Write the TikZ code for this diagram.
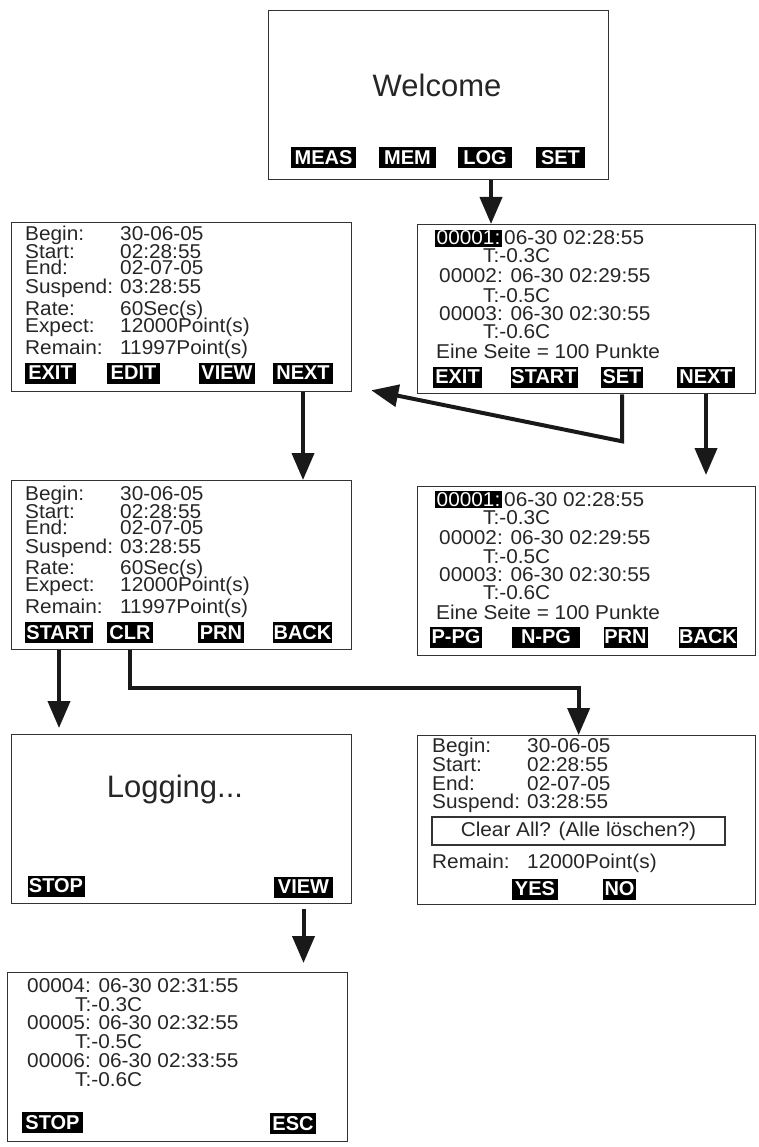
\documentclass[tikz,border=0pt]{standalone}
\usepackage{fontspec}
\setmainfont{Liberation Sans}
\newfontfamily\lcd[FakeStretch=1.04]{Liberation Sans}
\usetikzlibrary{positioning,calc,arrows.meta}

\tikzset{
	screen/.style={draw=black!80, line width=1.3pt, anchor=north west, minimum width=340pt, minimum height=169pt, inner sep=0pt},
	row/.style={anchor=base west, inner sep=0pt, text=black!85, font={\lcd\fontsize{20}{22}\selectfont}},
	hilite/.style={fill=black, text=white, inner sep=1.5pt},
	key/.style={fill=black, text=white, inner sep=0pt, minimum height=21pt, font=\bfseries\fontsize{20}{22}\selectfont},
	big/.style={anchor=base, inner sep=0pt, text=black!85, font=\fontsize{31}{36}\selectfont},
	qbox/.style={draw=black!80, line width=1.3pt, minimum width=293pt, minimum height=28pt, inner sep=0pt, text=black!85, font={\lcd\fontsize{20}{22}\selectfont}},
	flow/.style={draw=black!90, line width=4pt, -{Triangle[length=27pt,width=22pt]}},
}

\begin{document}
	\begin{tikzpicture}[x=1pt,y=-1pt]
		\useasboundingbox (0,0) rectangle (759,1147);
		%
		\node[screen] (welcome) at (268,10) {};
		\node[screen] (set1) at (11,222) {};
		\node[screen, minimum width=338pt] (list1) at (417,224) {};
		\node[screen] (set2) at (11,480) {};
		\node[screen, minimum width=338pt] (list2) at (417,486) {};
		\node[screen] (log) at (11,734) {};
		\node[screen, minimum width=338pt] (clear) at (417,735) {};
		\node[screen] (view) at (7,972) {};
		%
		\node[big] (hello) at (437,97) {Welcome};
		\node[key, minimum width=65] (meas) at (323.5,157.5) {MEAS};
		\node[key, minimum width=57] (mem) at (407.5,157.5) {MEM};
		\node[key, minimum width=54] (logkey) at (485,157.5) {LOG};
		\node[key, minimum width=49] (setkey) at (560.5,157.5) {SET};
		%
		\foreach \dy/\s in {0/a,259/b}{
			\foreach \lab/\val/\y [count=\i] in {Begin:/30-06-05/241, Start:/02:28:55/259, End:/02-07-05/275, Suspend:/03:28:55/294, Rate:/60Sec(s)/315, Expect:/12000Point(s)/332, Remain:/11997Point(s)/354}{
				\node[row] (lab\s\i) at (25,\y+\dy) {\lab};
				\node[row] (val\s\i) at (120,\y+\dy) {\val};
			}
		}
		\node[key, minimum width=51] (exit1) at (50.5,373) {EXIT};
		\node[key, minimum width=53] (edit) at (133.5,373) {EDIT};
		\node[key, minimum width=56] (view1) at (227,373) {VIEW};
		\node[key, minimum width=60] (next1) at (303,373) {NEXT};
		\node[key, minimum width=68] (start3) at (59,632.5) {START};
		\node[key, minimum width=46] (clr) at (130,632.5) {CLR};
		\node[key, minimum width=46] (prn1) at (221,632.5) {PRN};
		\node[key, minimum width=59] (back1) at (302.5,632.5) {BACK};
		%
		\foreach \dy/\s in {0/c,261/d}{
			\node[row, hilite] (\s0) at (435,245+\dy) {00001:};
			\node[row, base right=2pt of \s0] (\s1) {06-30 02:28:55};
			\node[row] (\s2) at (483,263+\dy) {T:-0.3C};
			\node[row] (\s3) at (439,283+\dy) {00002: 06-30 02:29:55};
			\node[row] (\s4) at (483,302+\dy) {T:-0.5C};
			\node[row] (\s5) at (439,320+\dy) {00003: 06-30 02:30:55};
			\node[row] (\s6) at (483,338+\dy) {T:-0.6C};
			\node[row] (\s7) at (436,358+\dy) {Eine Seite = 100 Punkte};
		}
		\node[key, minimum width=49] (exit2) at (457.5,377) {EXIT};
		\node[key, minimum width=67] (start2) at (544,377) {START};
		\node[key, minimum width=42] (setk) at (622,377) {SET};
		\node[key, minimum width=58] (next2) at (706,377) {NEXT};
		\node[key, minimum width=52] (ppg) at (456,637) {P-PG};
		\node[key, minimum width=68] (npg) at (546,637) {N-PG};
		\node[key, minimum width=44] (prn2) at (625.5,637) {PRN};
		\node[key, minimum width=58] (back2) at (708,637) {BACK};
		%
		\node[big] (busy) at (175,797) {Logging...};
		\node[key, minimum width=57] (stop1) at (56,886) {STOP};
		\node[key, minimum width=59] (viewk) at (303.5,887) {VIEW};
		%
		\foreach \lab/\val/\y [count=\i] in {Begin:/30-06-05/752, Start:/02:28:55/771, End:/02-07-05/790, Suspend:/03:28:55/808}{
			\node[row] (labe\i) at (432,\y) {\lab};
			\node[row] (vale\i) at (527,\y) {\val};
		}
		\node[qbox] (ask) at (578.5,831) {Clear All? (Alle löschen?)};
		\node[row] (labe5) at (432,868) {Remain:};
		\node[row] (vale5) at (527,868) {12000Point(s)};
		\node[key, minimum width=46] (yes) at (535,889) {YES};
		\node[key, minimum width=33] (no) at (619.5,889) {NO};
		%
		\foreach \n/\t/\c/\y [count=\i] in {4/31/3/992, 5/32/5/1029, 6/33/6/1067}{
			\node[row] (rec\i) at (27,\y) {0000\n: 06-30 02:\t:55};
			\node[row] (tmp\i) at (75,\y+19) {T:-0.\c C};
		}
		\node[key, minimum width=61] (stop2) at (52.5,1122.5) {STOP};
		\node[key, minimum width=46] (esc) at (293,1123.5) {ESC};
		%
		\draw[flow] ([xshift=6pt]logkey.south |- welcome.south) -- ([xshift=6pt]logkey.south |- list1.north);
		\draw[flow] (setk |- list1.south) -- ++(0,47) -- ([xshift=19pt,yshift=2pt]set1.south east);
		\draw[flow] (next2 |- list1.south) -- ([yshift=11pt]next2 |- list2.north);
		\draw[flow] (next1 |- set1.south) -- (next1 |- set2.north);
		\draw[flow] (start3 |- set2.south) -- ([yshift=6pt]start3 |- log.north);
		\draw[flow] (clr |- set2.south) -- ++(0,38) -| ([xshift=-8pt]clear.north);
		\draw[flow] ([yshift=-5pt]viewk |- log.south) -- ([yshift=9pt]viewk |- view.north);
	\end{tikzpicture}
\end{document}
